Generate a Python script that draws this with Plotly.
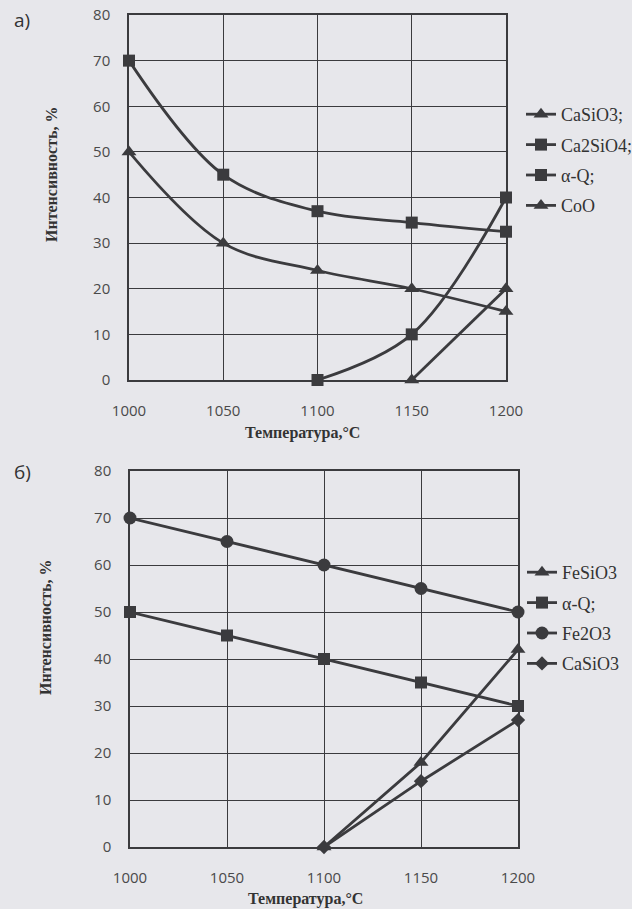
import plotly.graph_objects as go

# ---- data ----
temps = [1000, 1050, 1100, 1150, 1200]
x_ticks = [1000, 1050, 1100, 1150, 1200]
y_ticks = [0, 10, 20, 30, 40, 50, 60, 70, 80]

# chart a)
a_CaSiO3 = [50, 30, 24, 20, 15]
a_Ca2SiO4 = [None, None, 0, 10, 40]
a_aQ = [70, 45, 37, 34.5, 32.5]
a_CoO = [None, None, None, 0, 20]

# chart b)
b_FeSiO3 = [None, None, 0, 18, 42]
b_aQ = [50, 45, 40, 35, 30]
b_Fe2O3 = [70, 65, 60, 55, 50]
b_CaSiO3 = [None, None, 0, 14, 27]

LINE = "#3b3b3e"
BG = "#e7e7eb"
W, H = 632, 909

fig = go.Figure()

def add(y, name, symbol, size, xa, ya, legend, shape):
    fig.add_trace(go.Scatter(
        x=temps, y=y, name=name, mode="lines+markers",
        line=dict(color=LINE, width=2.8, shape=shape, smoothing=1.0),
        marker=dict(symbol=symbol, size=size, color=LINE),
        xaxis=xa, yaxis=ya, legend=legend, legendgroup=name + legend,
        cliponaxis=False, connectgaps=False,
    ))

add(a_CaSiO3, "CaSiO3;", "triangle-up", 13, "x", "y", "legend", "spline")
add(a_Ca2SiO4, "Ca2SiO4;", "square", 12, "x", "y", "legend", "spline")
add(a_aQ, "α-Q;", "square", 12, "x", "y", "legend", "spline")
add(a_CoO, "CoO", "triangle-up", 13, "x", "y", "legend", "spline")

add(b_FeSiO3, "FeSiO3", "triangle-up", 13, "x2", "y2", "legend2", "linear")
add(b_aQ, "α-Q;", "square", 12, "x2", "y2", "legend2", "linear")
add(b_Fe2O3, "Fe2O3", "circle", 13, "x2", "y2", "legend2", "linear")
add(b_CaSiO3, "CaSiO3", "diamond", 11, "x2", "y2", "legend2", "linear")

def px_dom(a, b, total):
    return [a / total, b / total]

def ydom(top, bottom):
    return [1 - bottom / H, 1 - top / H]

tickfont = dict(family="Open Sans, sans-serif", size=15, color="#4a4a4a")
common_x = dict(range=[1000, 1200], tickvals=x_ticks, showgrid=True, gridcolor=LINE,
                gridwidth=1, showline=True, linecolor=LINE, linewidth=1.5, mirror=True,
                ticks="outside", ticklen=16, tickcolor="rgba(0,0,0,0)", tickfont=tickfont,
                zeroline=False, automargin=False)
common_y = dict(range=[0, 80], tickvals=y_ticks, showgrid=True, gridcolor=LINE,
                gridwidth=1, showline=True, linecolor=LINE, linewidth=1.5, mirror=True,
                ticks="outside", ticklen=14, tickcolor="rgba(0,0,0,0)", tickfont=tickfont,
                zeroline=False, automargin=False)

legfont = dict(family="Liberation Serif, serif", size=18, color="#333")
fig.update_layout(
    width=W, height=H, margin=dict(l=0, r=0, t=0, b=0, pad=0, autoexpand=False),
    paper_bgcolor=BG, plot_bgcolor=BG,
    xaxis=dict(domain=px_dom(129, 506, W), anchor="y", **common_x),
    yaxis=dict(domain=ydom(15, 380), anchor="x", **common_y),
    xaxis2=dict(domain=px_dom(130, 518, W), anchor="y2", **common_x),
    yaxis2=dict(domain=ydom(471, 847), anchor="x2", **common_y),
    legend=dict(x=521 / W, y=1 - 96 / H, xanchor="left", yanchor="top",
                bgcolor="rgba(0,0,0,0)", tracegroupgap=4, itemwidth=30, font=legfont),
    legend2=dict(x=522 / W, y=1 - 554 / H, xanchor="left", yanchor="top",
                 bgcolor="rgba(0,0,0,0)", tracegroupgap=4, itemwidth=30, font=legfont),
    showlegend=True,
)

title_font = dict(family="Liberation Serif, serif", size=16, color="#333")
ann = [
    dict(text="а)", x=22 / W, y=1 - 20 / H, font=dict(family="Open Sans, sans-serif", size=19, color="#333")),
    dict(text="б)", x=22 / W, y=1 - 472 / H, font=dict(family="Open Sans, sans-serif", size=19, color="#333")),
    dict(text="<b>Интенсивность, %</b>", x=52 / W, y=1 - 175 / H, textangle=-90, font=title_font),
    dict(text="<b>Интенсивность, %</b>", x=45 / W, y=1 - 628 / H, textangle=-90, font=title_font),
    dict(text="<b>Температура,°C</b>", x=302 / W, y=1 - 433 / H, font=title_font),
    dict(text="<b>Температура,°C</b>", x=305 / W, y=1 - 899 / H, font=title_font),
]
for a in ann:
    a.update(xref="paper", yref="paper", showarrow=False, xanchor="center", yanchor="middle")
    fig.add_annotation(**a)

fig.write_html("out.html", config={"displayModeBar": False},
               post_script="document.body.style.margin='0';document.body.style.overflow='hidden';")
